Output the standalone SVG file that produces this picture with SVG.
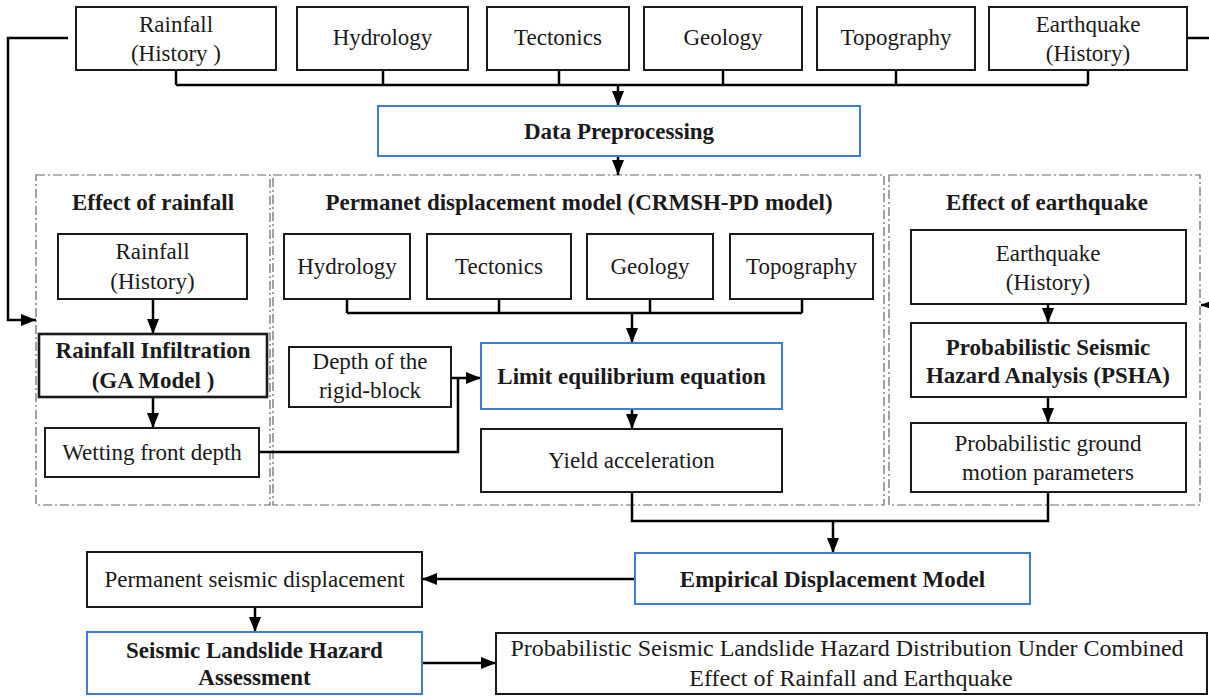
<svg xmlns="http://www.w3.org/2000/svg" width="1209" height="696" viewBox="0 0 1209 696">
<style>
  .box{fill:#fff;stroke:#1a1a1a;stroke-width:2}
  .blue{fill:#fff;stroke:#3b7dd8;stroke-width:2}
  .thick{fill:#fff;stroke:#1a1a1a;stroke-width:2.6}
  .cont{fill:none;stroke:#666;stroke-width:1.2;stroke-dasharray:9,3,2,3}
  .t{font-family:"Liberation Serif","Times New Roman",serif;font-size:23px;fill:#1a1a1a;text-anchor:middle}
  .b{font-weight:bold}
  .c{fill:none;stroke:#000;stroke-width:2.5}
</style>
<defs>
  <marker id="ah" viewBox="0 0 15 12" refX="15" refY="6" markerWidth="15" markerHeight="12" markerUnits="userSpaceOnUse" orient="auto">
    <path d="M0,0 L15,6 L0,12 z" fill="#000"/>
  </marker>
</defs>

<g id="containers">
  <rect class="cont" x="36" y="175" width="234" height="330"/>
  <rect class="cont" x="273" y="175" width="611" height="330"/>
  <rect class="cont" x="889" y="175" width="311" height="330"/>
</g>

<g id="connectors">
  <path class="c" d="M176,70 V85 M383,70 V85 M559,70 V85 M723,70 V85 M896,70 V85 M1088,70 V85 M176,85 H1088"/>
  <path class="c" d="M618,85 V106" marker-end="url(#ah)"/>
  <path class="c" d="M618,156 V175" marker-end="url(#ah)"/>
  <path class="c" d="M68,38 H8 V320 H36" marker-end="url(#ah)"/>
  <path class="c" d="M1187,38 H1213 V305 H1201" marker-end="url(#ah)"/>
  <path class="c" d="M153,299 V334" marker-end="url(#ah)"/>
  <path class="c" d="M153,397 V428" marker-end="url(#ah)"/>
  <path class="c" d="M347,299 V313 M499,299 V313 M650,299 V313 M802,299 V313 M347,313 H802"/>
  <path class="c" d="M632,313 V343" marker-end="url(#ah)"/>
  <path class="c" d="M259,452 H458 V378"/>
  <path class="c" d="M451,378 H481" marker-end="url(#ah)"/>
  <path class="c" d="M632,409 V429" marker-end="url(#ah)"/>
  <path class="c" d="M1048,304 V323" marker-end="url(#ah)"/>
  <path class="c" d="M1048,397 V423" marker-end="url(#ah)"/>
  <path class="c" d="M632,492 V521 H1048 V492"/>
  <path class="c" d="M833,521 V553" marker-end="url(#ah)"/>
  <path class="c" d="M635,579 H422" marker-end="url(#ah)"/>
  <path class="c" d="M255,607 V632" marker-end="url(#ah)"/>
  <path class="c" d="M422,663 H496" marker-end="url(#ah)"/>
</g>

<g id="top-rainfall"><rect class="box" x="76" y="7" width="200" height="63"/><text class="t" x="176" y="32">Rainfall</text><text class="t" x="176" y="61">(History )</text></g>
<g id="top-hydrology"><rect class="box" x="297" y="7" width="171" height="63"/><text class="t" x="382.5" y="45">Hydrology</text></g>
<g id="top-tectonics"><rect class="box" x="487" y="7" width="142" height="63"/><text class="t" x="558" y="45">Tectonics</text></g>
<g id="top-geology"><rect class="box" x="644" y="7" width="158" height="63"/><text class="t" x="723" y="45">Geology</text></g>
<g id="top-topography"><rect class="box" x="817" y="7" width="158" height="63"/><text class="t" x="896" y="45">Topography</text></g>
<g id="top-earthquake"><rect class="box" x="989" y="7" width="198" height="63"/><text class="t" x="1088" y="32">Earthquake</text><text class="t" x="1088" y="61">(History)</text></g>

<g id="data-preprocessing"><rect class="blue" x="378" y="106" width="482" height="50"/><text class="t b" x="619" y="139">Data Preprocessing</text></g>

<g id="titles">
  <text class="t b" x="153" y="210">Effect of rainfall</text>
  <text class="t b" x="579" y="210">Permanet displacement model (CRMSH-PD model)</text>
  <text class="t b" x="1047" y="210">Effect of earthquake</text>
</g>

<g id="rain-history"><rect class="box" x="58" y="234" width="189" height="65"/><text class="t" x="152.5" y="259">Rainfall</text><text class="t" x="152.5" y="289">(History)</text></g>
<g id="rain-infiltration"><rect class="thick" x="39" y="334" width="228" height="63"/><text class="t b" x="153" y="358">Rainfall Infiltration</text><text class="t b" x="153" y="388">(GA Model )</text></g>
<g id="wetting-front"><rect class="box" x="45" y="428" width="214" height="49"/><text class="t" x="152" y="460">Wetting front depth</text></g>

<g id="mid-hydrology"><rect class="box" x="284" y="234" width="126" height="65"/><text class="t" x="347" y="274">Hydrology</text></g>
<g id="mid-tectonics"><rect class="box" x="427" y="234" width="144" height="65"/><text class="t" x="499" y="274">Tectonics</text></g>
<g id="mid-geology"><rect class="box" x="587" y="234" width="126" height="65"/><text class="t" x="650" y="274">Geology</text></g>
<g id="mid-topography"><rect class="box" x="730" y="234" width="143" height="65"/><text class="t" x="801.5" y="274">Topography</text></g>
<g id="depth-block"><rect class="box" x="289" y="347" width="162" height="60"/><text class="t" x="370" y="369">Depth of the</text><text class="t" x="370" y="398">rigid-block</text></g>
<g id="limit-equilibrium"><rect class="blue" x="481" y="343" width="301" height="66"/><text class="t b" x="631.5" y="384">Limit equilibrium equation</text></g>
<g id="yield-acceleration"><rect class="box" x="481" y="429" width="301" height="63"/><text class="t" x="631.5" y="468">Yield acceleration</text></g>

<g id="eq-history"><rect class="box" x="911" y="230" width="275" height="74"/><text class="t" x="1048" y="261">Earthquake</text><text class="t" x="1048" y="290">(History)</text></g>
<g id="psha"><rect class="box" x="911" y="323" width="275" height="74"/><text class="t b" x="1048" y="355">Probabilistic Seismic</text><text class="t b" x="1048" y="383">Hazard Analysis (PSHA)</text></g>
<g id="ground-motion"><rect class="box" x="911" y="423" width="275" height="69"/><text class="t" x="1048" y="451">Probabilistic ground</text><text class="t" x="1048" y="480">motion parameters</text></g>

<g id="empirical"><rect class="blue" x="635" y="553" width="395" height="51"/><text class="t b" x="832.5" y="587">Empirical Displacement Model</text></g>
<g id="permanent-displacement"><rect class="box" x="87" y="552" width="335" height="55"/><text class="t" x="254.5" y="587">Permanent seismic displacement</text></g>
<g id="hazard-assessment"><rect class="blue" x="87" y="632" width="335" height="62"/><text class="t b" x="254.5" y="658">Seismic Landslide Hazard</text><text class="t b" x="254.5" y="685">Assessment</text></g>
<g id="hazard-distribution"><rect class="box" x="496" y="633" width="711" height="61"/><text class="t" x="847" y="656" style="font-size:24px">Probabilistic Seismic Landslide Hazard Distribution Under Combined</text><text class="t" x="851" y="686" style="font-size:24px">Effect of Rainfall and Earthquake</text></g>
</svg>
